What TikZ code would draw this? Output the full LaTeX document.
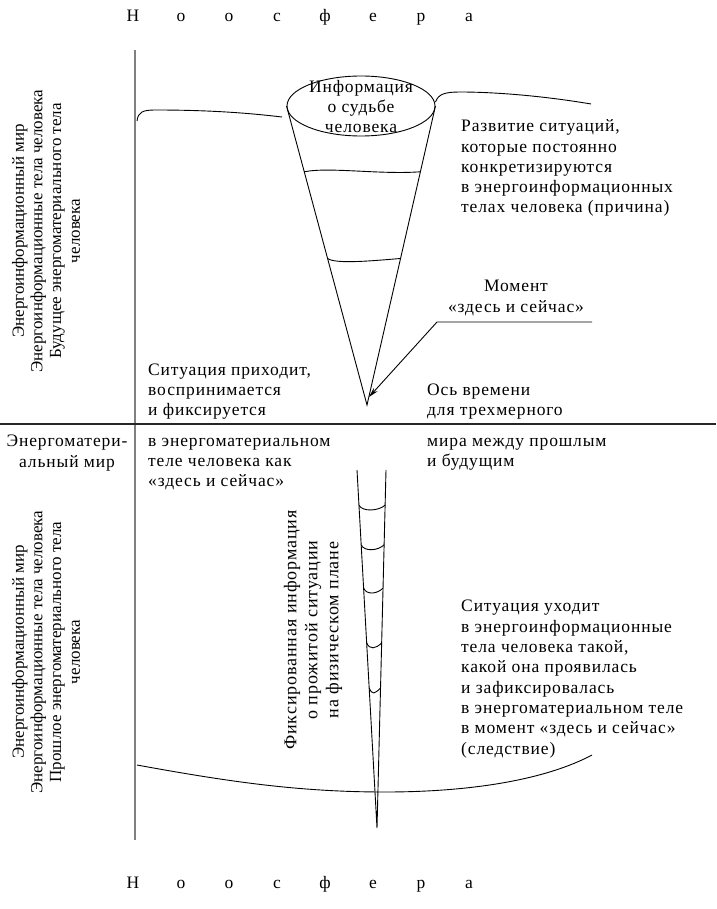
\documentclass[tikz,border=0pt]{standalone}
\usepackage{fontspec}
\setmainfont{Liberation Serif}[LetterSpace=5]
\newfontfamily\plainserif{Liberation Serif}
\usepackage{tikz}
\usetikzlibrary{arrows.meta,positioning,calc,shapes.geometric}

\begin{document}
\begin{tikzpicture}[x=1pt, y=-1pt,
    txt/.style={align=left, anchor=base west, inner sep=0pt, font=\fontsize{17.5}{20.3}\selectfont},
    ctxt/.style={txt, align=center, anchor=base},
    side/.style={rotate=90, align=center, inner sep=0pt, font=\plainserif\fontsize{17}{18.7}\selectfont},
    letter/.style={anchor=base, inner sep=0pt, font=\plainserif\fontsize{17.5}{20}\selectfont},
    axis/.style={gray, line width=1.6pt},
    thin/.style={line width=0.9pt}]
    \useasboundingbox (0,0) rectangle (716,909);

    % noosphere, above and below
    \foreach \ch [count=\i from 0] in {Н,о,о,с,ф,е,р,а} {
        \node [letter] (top\i) at (133+48*\i, 22) {\ch};
        \node [letter] (bot\i) at (133+48*\i, 888) {\ch};
    }

    % axes
    \coordinate (vtop) at (135,50);
    \coordinate (vbot) at (135,840);
    \coordinate (now-l) at (0,424);
    \coordinate (now-r) at (716,424);
    \draw [axis] (vtop) -- (vbot);
    \draw [black!85, line width=1.5pt] (now-l) -- (now-r);

    % upper cone
    \node [ellipse, draw, thin, minimum width=148, minimum height=60, inner sep=0pt] (cup) at (361,106) {};
    \coordinate (apex) at (367,405);
    \draw [thin] (cup.west) -- (apex) -- (cup.east);
    \draw [thin] ($(cup.west)!0.22!(apex)$) .. controls +(25,-5) and +(-40,3) .. ($(cup.east)!0.22!(apex)$);
    \draw [thin] ($(cup.west)!0.51!(apex)$) .. controls +(8,6) and +(-25,2) .. ($(cup.east)!0.51!(apex)$);
    % text blocks are anchored at the baseline of their last line
    \node [ctxt] (fate) at (361,133) {Информация\\о судьбе\\человека};

    % horizon lines, future
    \draw [thin] (137,121) .. controls (138,112) and (143,110) .. (155,110)
        .. controls (200,110) and (240,112) .. (282,117);
    \draw [thin] (cup.east) ++(0,-4) .. controls +(3,-8) and (445,92) .. (460,92)
        .. controls (500,92) and (550,97) .. (591,104);

    % lower cone
    \coordinate (low-l) at (357,470);
    \coordinate (low-r) at (386,470);
    \coordinate (low-apex) at (377,828);
    \draw [thin] (low-l) -- (low-apex) -- (low-r);
    \foreach \t in {0.098,0.209,0.33,0.483,0.609}
        \draw [thin] ($(low-l)!\t!(low-apex)$) .. controls +(3,7) and +(-6,6) .. ($(low-r)!\t!(low-apex)$);

    % horizon line, past
    \draw [thin] (137,765) .. controls (230,782) and (300,792) .. (385,792)
        .. controls (470,792) and (545,780) .. (592,755);

    % moment here and now
    \node [ctxt] (moment) at (516,312) {Момент\\«здесь и сейчас»};
    \coordinate (ul-r) at (592,322);
    \coordinate (ul-l) at (437,322);
    \coordinate (tip) at (369,397);
    \draw [thin, -{Stealth[length=10pt,width=5pt]}] (ul-r) -- (ul-l) -- (tip);

    % texts
    \node [txt] (develop) at (461,213) {Развитие ситуаций,\\которые постоянно\\конкретизируются\\в энергоинформационных\\телах человека (причина)};
    \node [txt] (arrive) at (148,415.6) {Ситуация приходит,\\воспринимается\\и фиксируется};
    \node [txt] (timeaxis) at (427,415.6) {Ось времени\\для трехмерного};
    \node [txt] (arrive2) at (148,486.6) {в энергоматериальном\\теле человека как\\«здесь и сейчас»};
    \node [txt] (timeaxis2) at (427,466.3) {мира между прошлым\\и будущим};
    \node [ctxt] (matworld) at (67,467) {Энергоматери-\\альный мир};
    \node [txt] (leave) at (461,754) {Ситуация уходит\\в энергоинформационные\\тела человека такой,\\какой она проявилась\\и зафиксировалась\\в энергоматериальном теле\\в момент «здесь и сейчас»\\(следствие)};

    % rotated texts
    \node [side] (future) at (46,231) {Энергоинформационный мир\\Энергоинформационные тела человека\\Будущее энергоматериального тела\\человека};
    \node [side] (past) at (46,652) {Энергоинформационный мир\\Энергоинформационные тела человека\\Прошлое энергоматериального тела\\человека};
    \node [side, font=\fontsize{18}{21}\selectfont] (fixed) at (313,630) {Фиксированная информация\\о прожитой ситуации\\на физическом плане};
\end{tikzpicture}
\end{document}
